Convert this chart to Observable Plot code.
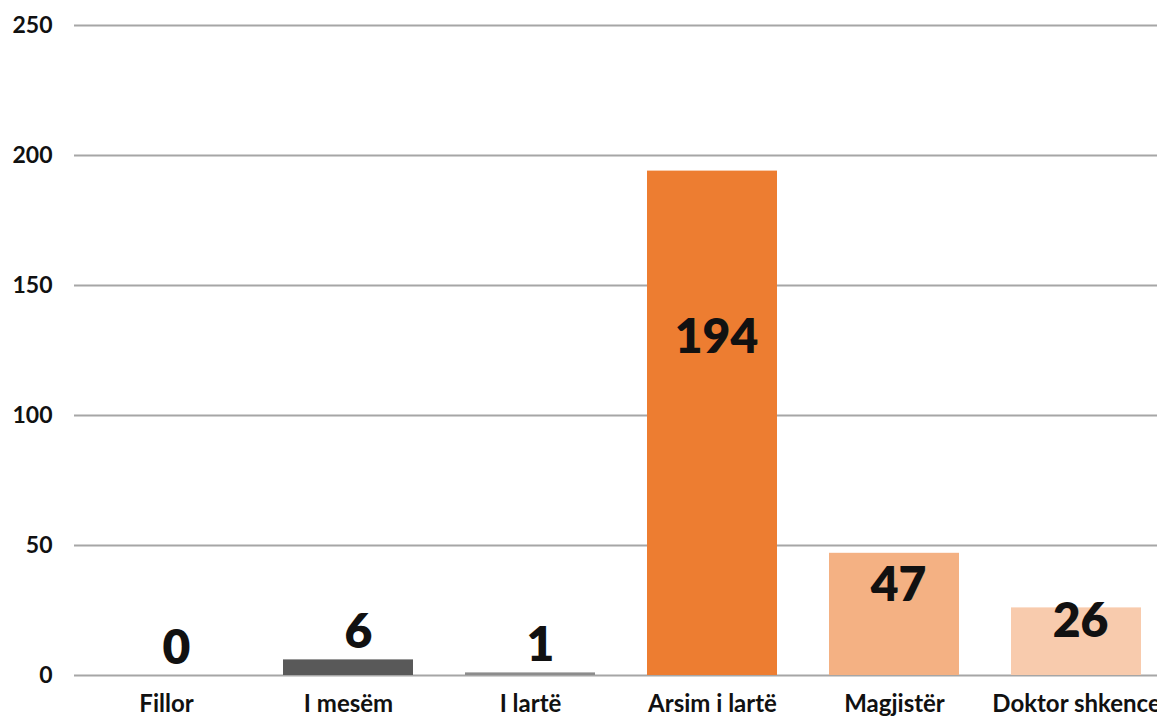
<!DOCTYPE html>
<html>
<head>
<meta charset="utf-8">
<script src="https://cdn.jsdelivr.net/npm/d3@7"></script>
<script src="https://cdn.jsdelivr.net/npm/@observablehq/plot@0.6"></script>
<style>
  html, body { margin: 0; padding: 0; background: #fff; overflow: hidden; }
  #chart svg { display: block; }
</style>
</head>
<body>
<div id="chart"></div>
<script>
const categories = ["Fillor", "I mesëm", "I lartë", "Arsim i lartë", "Magjistër", "Doktor shkence"];
const values = [0, 6, 1, 194, 47, 26];
const colors = ["#404040", "#595959", "#8c8c8c", "#ED7D31", "#F4B183", "#F8CBAD"];
const yTicks = [0, 50, 100, 150, 200, 250];

const data = categories.map((c, i) => ({category: c, value: values[i], color: colors[i]}));
const small = data.filter(d => d.value < 10);
const large = data.filter(d => d.value >= 10);

const font = "Lato, 'Open Sans', sans-serif";

const chart = Plot.plot({
  width: 1157,
  height: 716,
  marginTop: 25,
  marginBottom: 41,
  marginLeft: 74,
  marginRight: -11,
  style: {background: "#fff", fontFamily: font, overflow: "hidden"},
  x: {domain: categories, paddingInner: 0.286, paddingOuter: 0.143, label: null},
  y: {domain: [0, 250], label: null},
  marks: [
    Plot.ruleY(yTicks, {stroke: "#a6a6a6", strokeWidth: 2}),
    Plot.barY(data, {x: "category", y: "value", fill: "color"}),
    Plot.text(small, {x: "category", y: "value", text: d => String(d.value), lineAnchor: "bottom", dy: -12, dx: 10,
      fontSize: 48, fontWeight: 800, fill: "#111"}),
    Plot.text(large, {x: "category", y: d => d.value * 0.65 + 4, text: d => String(d.value), lineAnchor: "middle", dx: 4,
      fontSize: 48, fontWeight: 800, fill: "#111"}),
    Plot.axisY({ticks: yTicks, tickSize: 0, tickPadding: 22, fontSize: 23, fontWeight: "bold", color: "#111", label: null}),
    Plot.axisX({tickSize: 0, tickPadding: 19, fontSize: 24, fontWeight: "bold", color: "#111", label: null})
  ]
});
document.getElementById("chart").appendChild(chart);
</script>
</body>
</html>
